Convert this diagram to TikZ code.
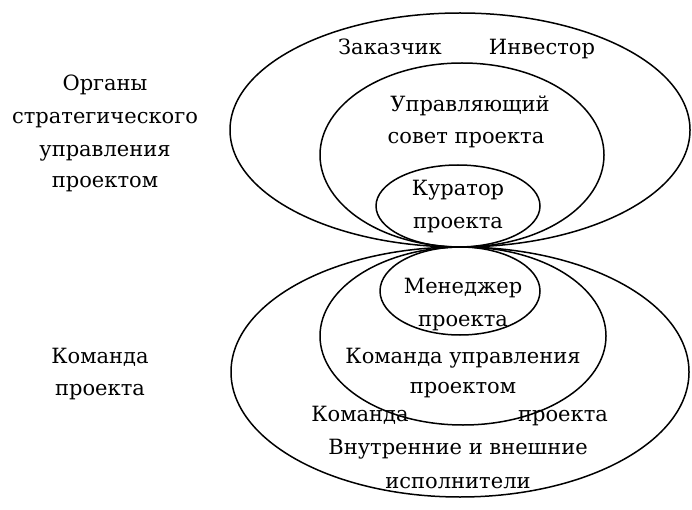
\documentclass[tikz,border=0pt]{standalone}
\usepackage{fontspec}
\setmainfont{DejaVu Serif}
\begin{document}
\begin{tikzpicture}[x=1pt,y=-1pt,
  ring/.style={draw=black,line width=1.5pt},
  lbl/.style={font=\fontsize{21}{24}\selectfont,inner sep=0pt,anchor=base}]
\useasboundingbox (0,0) rectangle (692,510);
\draw[ring] (460,130) ellipse [x radius=230,y radius=117];
\draw[ring] (462,155) ellipse [x radius=142,y radius=92];
\draw[ring] (458,206) ellipse [x radius=82,y radius=41];
\draw[ring] (460,372) ellipse [x radius=229,y radius=125];
\draw[ring] (463,336) ellipse [x radius=143,y radius=89];
\draw[ring] (460,291) ellipse [x radius=80,y radius=44];
\node[lbl] (t1) at (390,55) {Заказчик};
\node[lbl] (t2) at (542,55) {Инвестор};
\node[lbl] (t3) at (470,112) {Управляющий};
\node[lbl] (t4) at (466,144) {совет проекта};
\node[lbl] (t5) at (458,196) {Куратор};
\node[lbl] (t6) at (458,229) {проекта};
\node[lbl] (t7) at (463,293) {Менеджер};
\node[lbl] (t8) at (463,326) {проекта};
\node[lbl] (t9) at (463,363) {Команда управления};
\node[lbl] (t10) at (463,393) {проектом};
\node[lbl] (t11) at (360,421) {Команда};
\node[lbl] (t12) at (563,421) {проекта};
\node[lbl] (t13) at (458,454) {Внутренние и внешние};
\node[lbl] (t14) at (458,488) {исполнители};
\node[lbl] (l1) at (105,91) {Органы};
\node[lbl] (l2) at (105,124) {стратегического};
\node[lbl] (l3) at (105,157) {управления};
\node[lbl] (l4) at (105,188) {проектом};
\node[lbl] (l5) at (100,363) {Команда};
\node[lbl] (l6) at (100,395) {проекта};
\end{tikzpicture}
\end{document}
